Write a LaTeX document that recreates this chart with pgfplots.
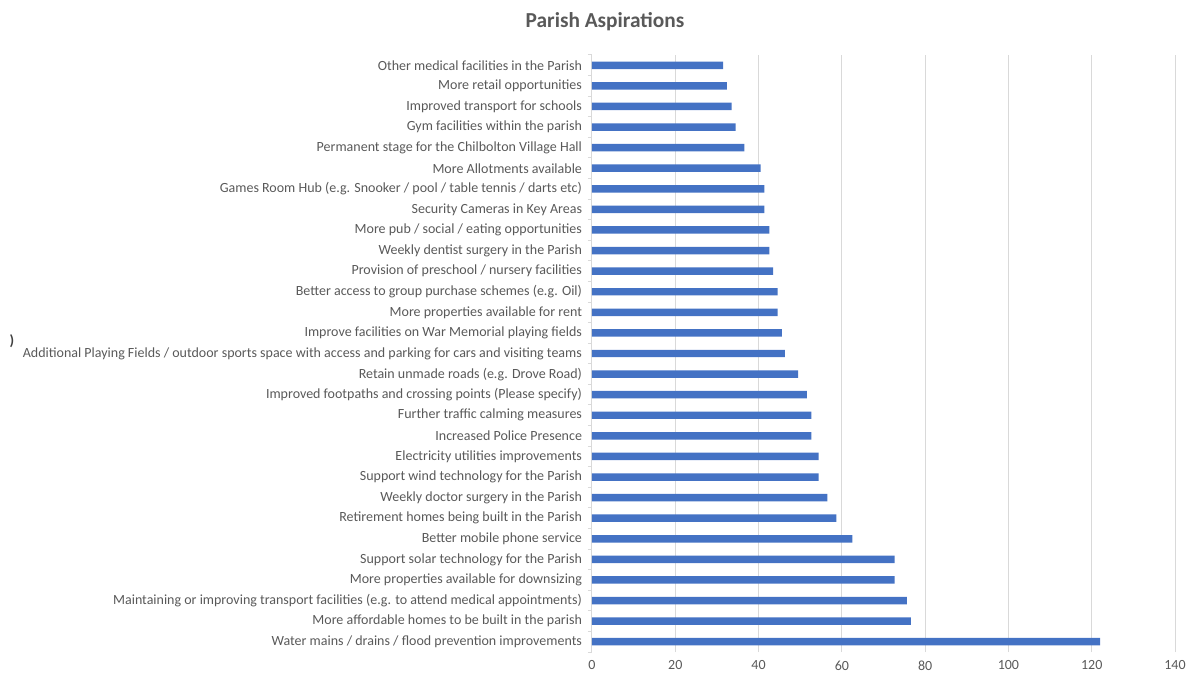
\documentclass[border=0pt]{standalone}
\usepackage{pgfplots}
\pgfplotsset{compat=1.18}
\usepackage{fontspec}
\setmainfont{Carlito}
\definecolor{barblue}{HTML}{4472C4}
\definecolor{gridgray}{HTML}{D9D9D9}
\definecolor{txtgray}{HTML}{595959}
\begin{document}
\begin{tikzpicture}
\useasboundingbox (-444pt,-17.25pt) rectangle (446.25pt,489pt);
\begin{axis}[
  scale only axis,
  width=437.25pt, height=447.75pt,
  xbar, bar width=5.6pt,
  xmin=0, xmax=140,
  ymin=-0.5, ymax=28.5,
  xtick={0,20,...,140},
  ytick={0,...,28},
  minor ytick={-0.5,0.5,...,28.5},
  yticklabels={
    {Water mains / drains / flood prevention improvements},
    {More affordable homes to be built in the parish},
    {Maintaining or improving transport facilities (e.g. to attend medical appointments)},
    {More properties available for downsizing},
    {Support solar technology for the Parish},
    {Better mobile phone service\hspace{5pt}},
    {Retirement homes being built in the Parish},
    {Weekly doctor surgery in the Parish},
    {Support wind technology for the Parish},
    {Electricity utilities improvements},
    {Increased Police Presence},
    {Further traffic calming measures},
    {Improved footpaths and crossing points (Please specify)},
    {Retain unmade roads (e.g. Drove Road)},
    {Additional Playing Fields / outdoor sports space with access and parking for cars and visiting teams},
    {Improve facilities on War Memorial playing fields},
    {More properties available for rent},
    {Better access to group purchase schemes (e.g. Oil)},
    {Provision of preschool / nursery facilities},
    {Weekly dentist surgery in the Parish},
    {More pub / social / eating opportunities},
    {Security Cameras in Key Areas},
    {Games Room Hub (e.g. Snooker / pool / table tennis / darts etc)},
    {More Allotments available},
    {Permanent stage for the Chilbolton Village Hall},
    {Gym facilities within the parish},
    {Improved transport for schools},
    {More retail opportunities\hspace{5pt}},
    {Other medical facilities in the Parish\hspace{5pt}}
  },
  axis lines*=left,
  x axis line style={draw=none},
  y axis line style={draw=gridgray, line width=0.75pt},
  xmajorgrids, grid style={gridgray, line width=0.75pt},
  major tick length=0pt,
  minor tick length=3pt,
  tick align=outside,
  minor tick style={gridgray, line width=0.75pt},
  ticklabel style={font=\fontsize{10.5pt}{12pt}\selectfont, text=txtgray},
  yticklabel style={xshift=-4pt},
  xticklabel style={yshift=-3pt},
  /pgf/number format/assume math mode=true,
  clip=false,
]
\addplot[fill=barblue, draw=none] coordinates {
(122,0) (76.6,1) (75.6,2) (72.7,3) (72.7,4) (62.5,5) (58.7,6) (56.5,7)
(54.4,8) (54.4,9) (52.7,10) (52.7,11) (51.6,12) (49.5,13) (46.3,14)
(45.6,15) (44.6,16) (44.6,17) (43.5,18) (42.6,19) (42.6,20) (41.4,21)
(41.4,22) (40.5,23) (36.6,24) (34.5,25) (33.5,26) (32.4,27) (31.5,28)
};
\end{axis}
\node[font=\bfseries\fontsize{16pt}{19pt}\selectfont, text=txtgray] at (9.75pt,472.5pt) {Parish Aspirations};
\node[font=\bfseries\fontsize{11pt}{12pt}\selectfont, text=black!75] at (-435pt,233pt) {)};
\end{tikzpicture}
\end{document}
